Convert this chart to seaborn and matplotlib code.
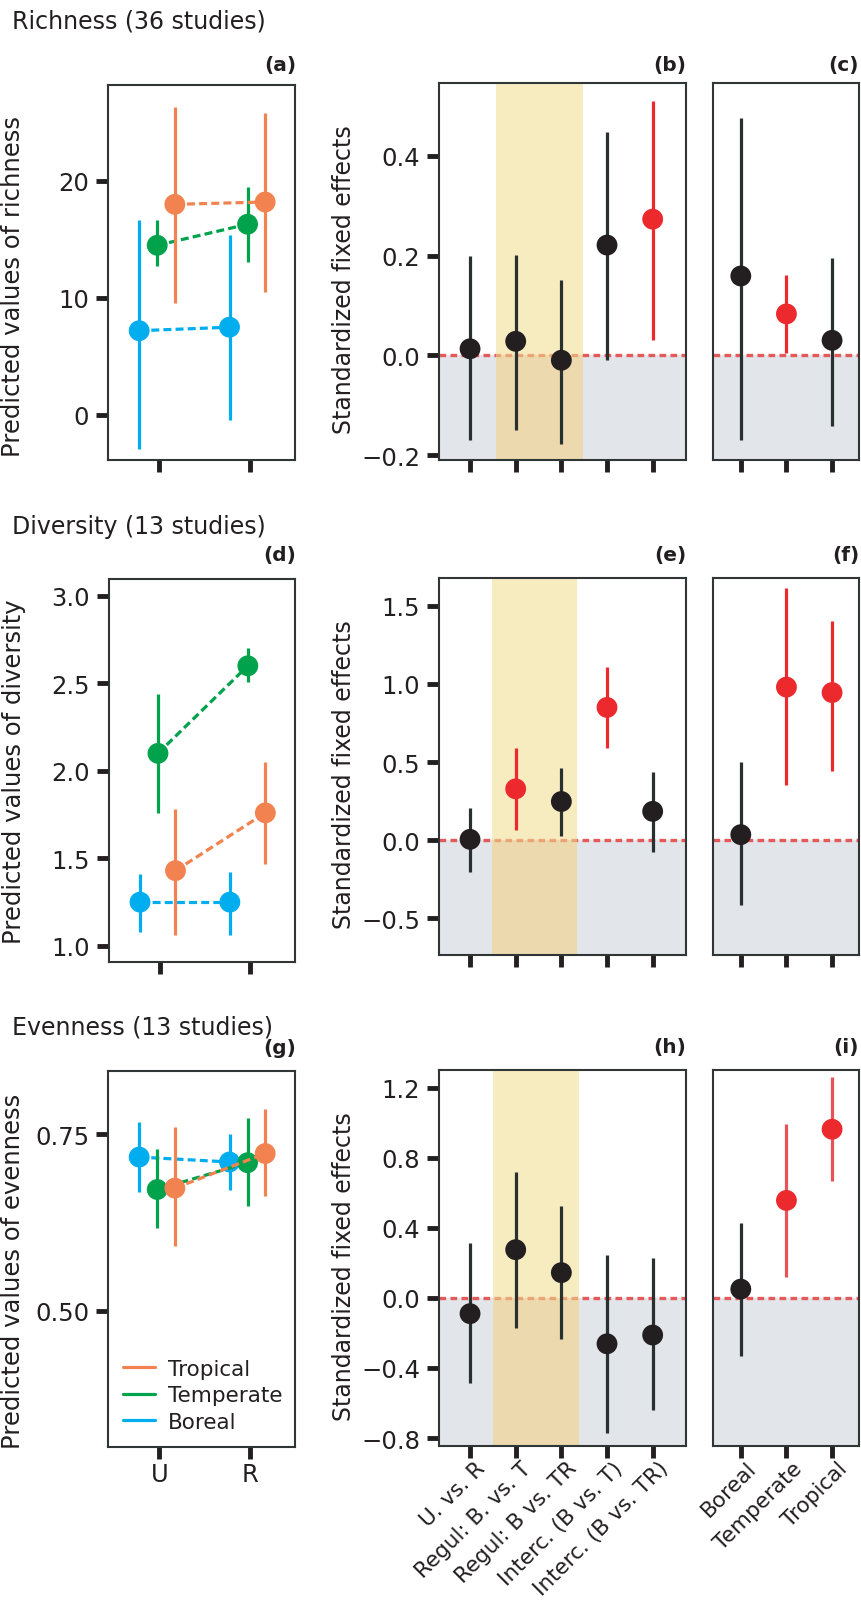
import matplotlib
matplotlib.use("Agg")
import matplotlib.pyplot as plt
import matplotlib.transforms as mtransforms
from matplotlib.lines import Line2D
from matplotlib.ticker import FuncFormatter
import pandas as pd
import seaborn as sns

# ---------------- categories ----------------
sites = ["U", "R"]
climates = ["Boreal", "Temperate", "Tropical"]
legend_order = ["Tropical", "Temperate", "Boreal"]
contrasts = ["U. vs. R", "Regul: B. vs. T", "Regul: B vs. TR",
             "Interc. (B vs. T)", "Interc. (B vs. TR)"]
climate_labels = ["Boreal", "Temperate", "Tropical"]

# ---------------- (a) richness, predicted values ----------------
rich_tropical = [18.0, 18.2]
rich_tropical_lo = [9.6, 10.5]
rich_tropical_hi = [26.3, 25.8]
rich_temperate = [14.5, 16.3]
rich_temperate_lo = [12.7, 13.1]
rich_temperate_hi = [16.7, 19.5]
rich_boreal = [7.2, 7.5]
rich_boreal_lo = [-2.9, -0.4]
rich_boreal_hi = [16.7, 15.4]

# ---------------- (d) diversity, predicted values ----------------
div_tropical = [1.43, 1.76]
div_tropical_lo = [1.06, 1.47]
div_tropical_hi = [1.78, 2.05]
div_temperate = [2.10, 2.60]
div_temperate_lo = [1.76, 2.51]
div_temperate_hi = [2.44, 2.70]
div_boreal = [1.25, 1.25]
div_boreal_lo = [1.08, 1.06]
div_boreal_hi = [1.41, 1.42]

# ---------------- (g) evenness, predicted values ----------------
even_tropical = [0.674, 0.723]
even_tropical_lo = [0.592, 0.663]
even_tropical_hi = [0.761, 0.786]
even_temperate = [0.672, 0.710]
even_temperate_lo = [0.618, 0.649]
even_temperate_hi = [0.730, 0.774]
even_boreal = [0.718, 0.711]
even_boreal_lo = [0.668, 0.672]
even_boreal_hi = [0.767, 0.751]

# ---------------- standardized fixed effects ----------------
rich_eff = [0.013, 0.028, -0.010, 0.221, 0.273]
rich_eff_lo = [-0.169, -0.150, -0.177, -0.010, 0.030]
rich_eff_hi = [0.200, 0.201, 0.151, 0.447, 0.509]
rich_eff_sig = [0, 0, 0, 0, 1]
rich_clim = [0.159, 0.083, 0.030]
rich_clim_lo = [-0.169, 0.005, -0.141]
rich_clim_hi = [0.475, 0.161, 0.195]
rich_clim_sig = [0, 1, 0]

div_eff = [0.006, 0.329, 0.248, 0.850, 0.185]
div_eff_lo = [-0.201, 0.064, 0.025, 0.588, -0.074]
div_eff_hi = [0.206, 0.588, 0.460, 1.110, 0.435]
div_eff_sig = [0, 1, 0, 1, 0]
div_clim = [0.036, 0.980, 0.945]
div_clim_lo = [-0.414, 0.354, 0.446]
div_clim_hi = [0.503, 1.615, 1.400]
div_clim_sig = [0, 1, 1]

even_eff = [-0.090, 0.275, 0.144, -0.262, -0.212]
even_eff_lo = [-0.487, -0.174, -0.234, -0.773, -0.642]
even_eff_hi = [0.313, 0.720, 0.522, 0.242, 0.225]
even_eff_sig = [0, 0, 0, 0, 0]
even_clim = [0.050, 0.556, 0.962]
even_clim_lo = [-0.333, 0.120, 0.664]
even_clim_hi = [0.425, 0.993, 1.258]
even_clim_sig = [0, 1, 1]

# ---------------- style ----------------
sns.set_theme(style="ticks")
plt.rcParams["font.family"] = ["DejaVu Sans"]
plt.rcParams["axes.unicode_minus"] = True

pal = {"Tropical": "#f2824f", "Temperate": "#00a24c", "Boreal": "#00aeef"}
dodge = {"Boreal": -0.225, "Temperate": -0.025, "Tropical": 0.17}
RED = "#ec2a2e"
BLACK = "#231f20"
BAR_BLACK = "#283030"
GRAY = "#e2e5ea"
ZERO = "#e45a5a"
BAND_UP = "#f2df96"
BAND_LO = "#f3d486"
SPINE = "#303535"
TXT = "#231f20"
TICK_FS = 17.5

W, H = 861, 1608
fig = plt.figure(figsize=(W / 100, H / 100), dpi=100)


def rect(l, t, r, b):
    return [l / W, 1 - b / H, (r - l) / W, (b - t) / H]


def fmt_factory(fmt):
    return FuncFormatter(lambda v, p: fmt.format(v).replace("-", "\u2212"))


def style_axes(ax):
    for sp in ax.spines.values():
        sp.set_visible(True)
        sp.set_color(SPINE)
        sp.set_linewidth(1.5)
    ax.tick_params(direction="out", length=8.5, width=3.5, color=BLACK,
                   labelsize=TICK_FS, labelcolor=TXT, pad=5)
    ax.tick_params(axis="x", pad=2)


def left_panel(ax, series, ylim, yticks, fmt, xlabels, ylabel, label_y):
    rows = []
    for clim in climates:
        m, lo, hi = series[clim]
        for i, s in enumerate(sites):
            rows.append(dict(climate=clim, site=s, x=i + dodge[clim],
                             mean=m[i], lo=lo[i], hi=hi[i]))
    df = pd.DataFrame(rows)
    for k, clim in enumerate(climates):
        sub = df[df.climate == clim]
        ax.vlines(sub.x, sub.lo, sub.hi, color=pal[clim], lw=2.3, zorder=2 + k)
        sns.lineplot(data=sub, x="x", y="mean", color=pal[clim], lw=2.3,
                     linestyle=(0, (2.5, 1.3)), errorbar=None, ax=ax,
                     zorder=2.2 + k)
        sns.scatterplot(data=sub, x="x", y="mean", color=pal[clim], s=225,
                        linewidth=0, edgecolor="none", legend=False, ax=ax,
                        zorder=2.5 + k)
    ax.set_xlim(-0.57, 1.5)
    ax.set_ylim(*ylim)
    ax.set_yticks(yticks)
    ax.yaxis.set_major_formatter(fmt_factory(fmt))
    ax.set_xticks(range(len(sites)))
    if xlabels:
        ax.set_xticklabels(sites)
    else:
        ax.set_xticklabels([])
    ax.set_xlabel("")
    ax.set_ylabel(ylabel, fontsize=17.5, color=TXT)
    ax.yaxis.set_label_coords(-0.444, label_y)
    style_axes(ax)


def effect_panel(ax, labels, means, lo, hi, sig, ylim, xlim, yticks=None,
                 fmt=None, band=None, xlabels=False, bar_red=RED, ylabel=None):
    df = pd.DataFrame(dict(pos=list(range(len(labels))), label=labels,
                           mean=means, lo=lo, hi=hi,
                           sig=["sig" if s else "ns" for s in sig]))
    ax.set_xlim(*xlim)
    ax.set_ylim(*ylim)
    ax.axhspan(ylim[0], 0, color=GRAY, lw=0, zorder=0)
    ax.axhline(0, color=ZERO, lw=2.4, ls=(0, (2.0, 1.3)), zorder=1)
    if band is not None:
        ax.fill_between(band, 0, ylim[1], color=BAND_UP, alpha=0.6, lw=0, zorder=2)
        ax.fill_between(band, ylim[0], 0, color=BAND_LO, alpha=0.6, lw=0, zorder=2)
    bar_cols = [bar_red if s == "sig" else BAR_BLACK for s in df.sig]
    ax.vlines(df.pos, df.lo, df.hi, colors=bar_cols, lw=2.3, zorder=3)
    sns.scatterplot(data=df, x="pos", y="mean", hue="sig",
                    palette={"ns": BLACK, "sig": RED}, s=225, linewidth=0,
                    edgecolor="none", legend=False, ax=ax, zorder=4)
    ax.set_xticks(df.pos)
    if yticks is not None:
        ax.set_yticks(yticks)
        ax.yaxis.set_major_formatter(fmt_factory(fmt))
    else:
        ax.set_yticks([])
    ax.set_xlabel("")
    if ylabel:
        ax.set_ylabel(ylabel, fontsize=17, color=TXT)
        ax.yaxis.set_label_coords(-0.336, 0.48)
    else:
        ax.set_ylabel("")
    style_axes(ax)
    if xlabels:
        ax.set_xticklabels(df.label, rotation=45, ha="right", va="top",
                           rotation_mode="anchor", fontsize=15.5)
        off = mtransforms.ScaledTranslation(5 / 100, 3 / 100, fig.dpi_scale_trans)
        for t in ax.get_xticklabels():
            t.set_transform(t.get_transform() + off)
    else:
        ax.set_xticklabels([])


MID_X = (-0.68, 4.73)
RIGHT_X = (-0.62, 2.59)

# ---------------- row 1: richness ----------------
ax_a = fig.add_axes(rect(108, 86, 295, 461))
left_panel(ax_a,
           {"Tropical": (rich_tropical, rich_tropical_lo, rich_tropical_hi),
            "Temperate": (rich_temperate, rich_temperate_lo, rich_temperate_hi),
            "Boreal": (rich_boreal, rich_boreal_lo, rich_boreal_hi)},
           (-3.85, 28.2), [0, 10, 20], "{:.0f}", False,
           "Predicted values of richness", 0.465)
ax_b = fig.add_axes(rect(439, 84, 686, 461))
effect_panel(ax_b, contrasts, rich_eff, rich_eff_lo, rich_eff_hi, rich_eff_sig,
             (-0.21, 0.546), MID_X, [-0.2, 0.0, 0.2, 0.4], "{:.1f}",
             band=(0.57, 2.47), ylabel="Standardized fixed effects")
ax_c = fig.add_axes(rect(712.5, 84, 859, 461))
effect_panel(ax_c, climate_labels, rich_clim, rich_clim_lo, rich_clim_hi,
             rich_clim_sig, (-0.21, 0.546), RIGHT_X)

# ---------------- row 2: diversity ----------------
ax_d = fig.add_axes(rect(109, 580, 295, 963))
left_panel(ax_d,
           {"Tropical": (div_tropical, div_tropical_lo, div_tropical_hi),
            "Temperate": (div_temperate, div_temperate_lo, div_temperate_hi),
            "Boreal": (div_boreal, div_boreal_lo, div_boreal_hi)},
           (0.908, 3.096), [1.0, 1.5, 2.0, 2.5, 3.0], "{:.1f}", False,
           "Predicted values of diversity", 0.5)
ax_e = fig.add_axes(rect(439, 579, 686, 956))
effect_panel(ax_e, contrasts, div_eff, div_eff_lo, div_eff_hi, div_eff_sig,
             (-0.734, 1.678), MID_X, [-0.5, 0.0, 0.5, 1.0, 1.5], "{:.1f}",
             band=(0.47, 2.34), ylabel="Standardized fixed effects")
ax_f = fig.add_axes(rect(712.5, 579, 859, 956))
effect_panel(ax_f, climate_labels, div_clim, div_clim_lo, div_clim_hi,
             div_clim_sig, (-0.734, 1.678), RIGHT_X)

# ---------------- row 3: evenness ----------------
ax_g = fig.add_axes(rect(108, 1072, 295, 1448))
left_panel(ax_g,
           {"Tropical": (even_tropical, even_tropical_lo, even_tropical_hi),
            "Temperate": (even_temperate, even_temperate_lo, even_temperate_hi),
            "Boreal": (even_boreal, even_boreal_lo, even_boreal_hi)},
           (0.307, 0.84), [0.50, 0.75], "{:.2f}", True,
           "Predicted values of evenness", 0.47)
handles = [Line2D([0], [0], color=pal[c], lw=2.3) for c in legend_order]
ax_g.legend(handles, legend_order, loc="lower left", frameon=False,
            fontsize=15.5, handlelength=1.5, handletextpad=0.6,
            labelspacing=0.3, borderaxespad=0.3, borderpad=0.4,
            labelcolor=TXT)
ax_h = fig.add_axes(rect(439, 1071, 686, 1447))
effect_panel(ax_h, contrasts, even_eff, even_eff_lo, even_eff_hi, even_eff_sig,
             (-0.845, 1.30), MID_X, [-0.8, -0.4, 0.0, 0.4, 0.8, 1.2], "{:.1f}",
             band=(0.51, 2.39), xlabels=True, ylabel="Standardized fixed effects")
ax_i = fig.add_axes(rect(712.5, 1071, 859, 1447))
effect_panel(ax_i, climate_labels, even_clim, even_clim_lo, even_clim_hi,
             even_clim_sig, (-0.845, 1.30), RIGHT_X, xlabels=True,
             bar_red="#e45458")

# ---------------- titles & panel letters ----------------
row_titles = ["Richness (36 studies)", "Diversity (13 studies)", "Evenness (13 studies)"]
row_title_y = [22, 527, 1027]
for t, y in zip(row_titles, row_title_y):
    fig.text(12 / W, 1 - y / H, t, fontsize=17, color=TXT, ha="left", va="center")

panel_letters = [("(a)", 296, 65), ("(b)", 686, 65), ("(c)", 859, 65),
                 ("(d)", 296, 555), ("(e)", 686, 555), ("(f)", 859, 555),
                 ("(g)", 296, 1048), ("(h)", 686, 1048), ("(i)", 859, 1048)]
for lab, x, y in panel_letters:
    fig.text(x / W, 1 - y / H, lab, fontsize=14.5, fontweight="bold",
             color=TXT, ha="right", va="center")

fig.savefig("out.png", dpi=100)
